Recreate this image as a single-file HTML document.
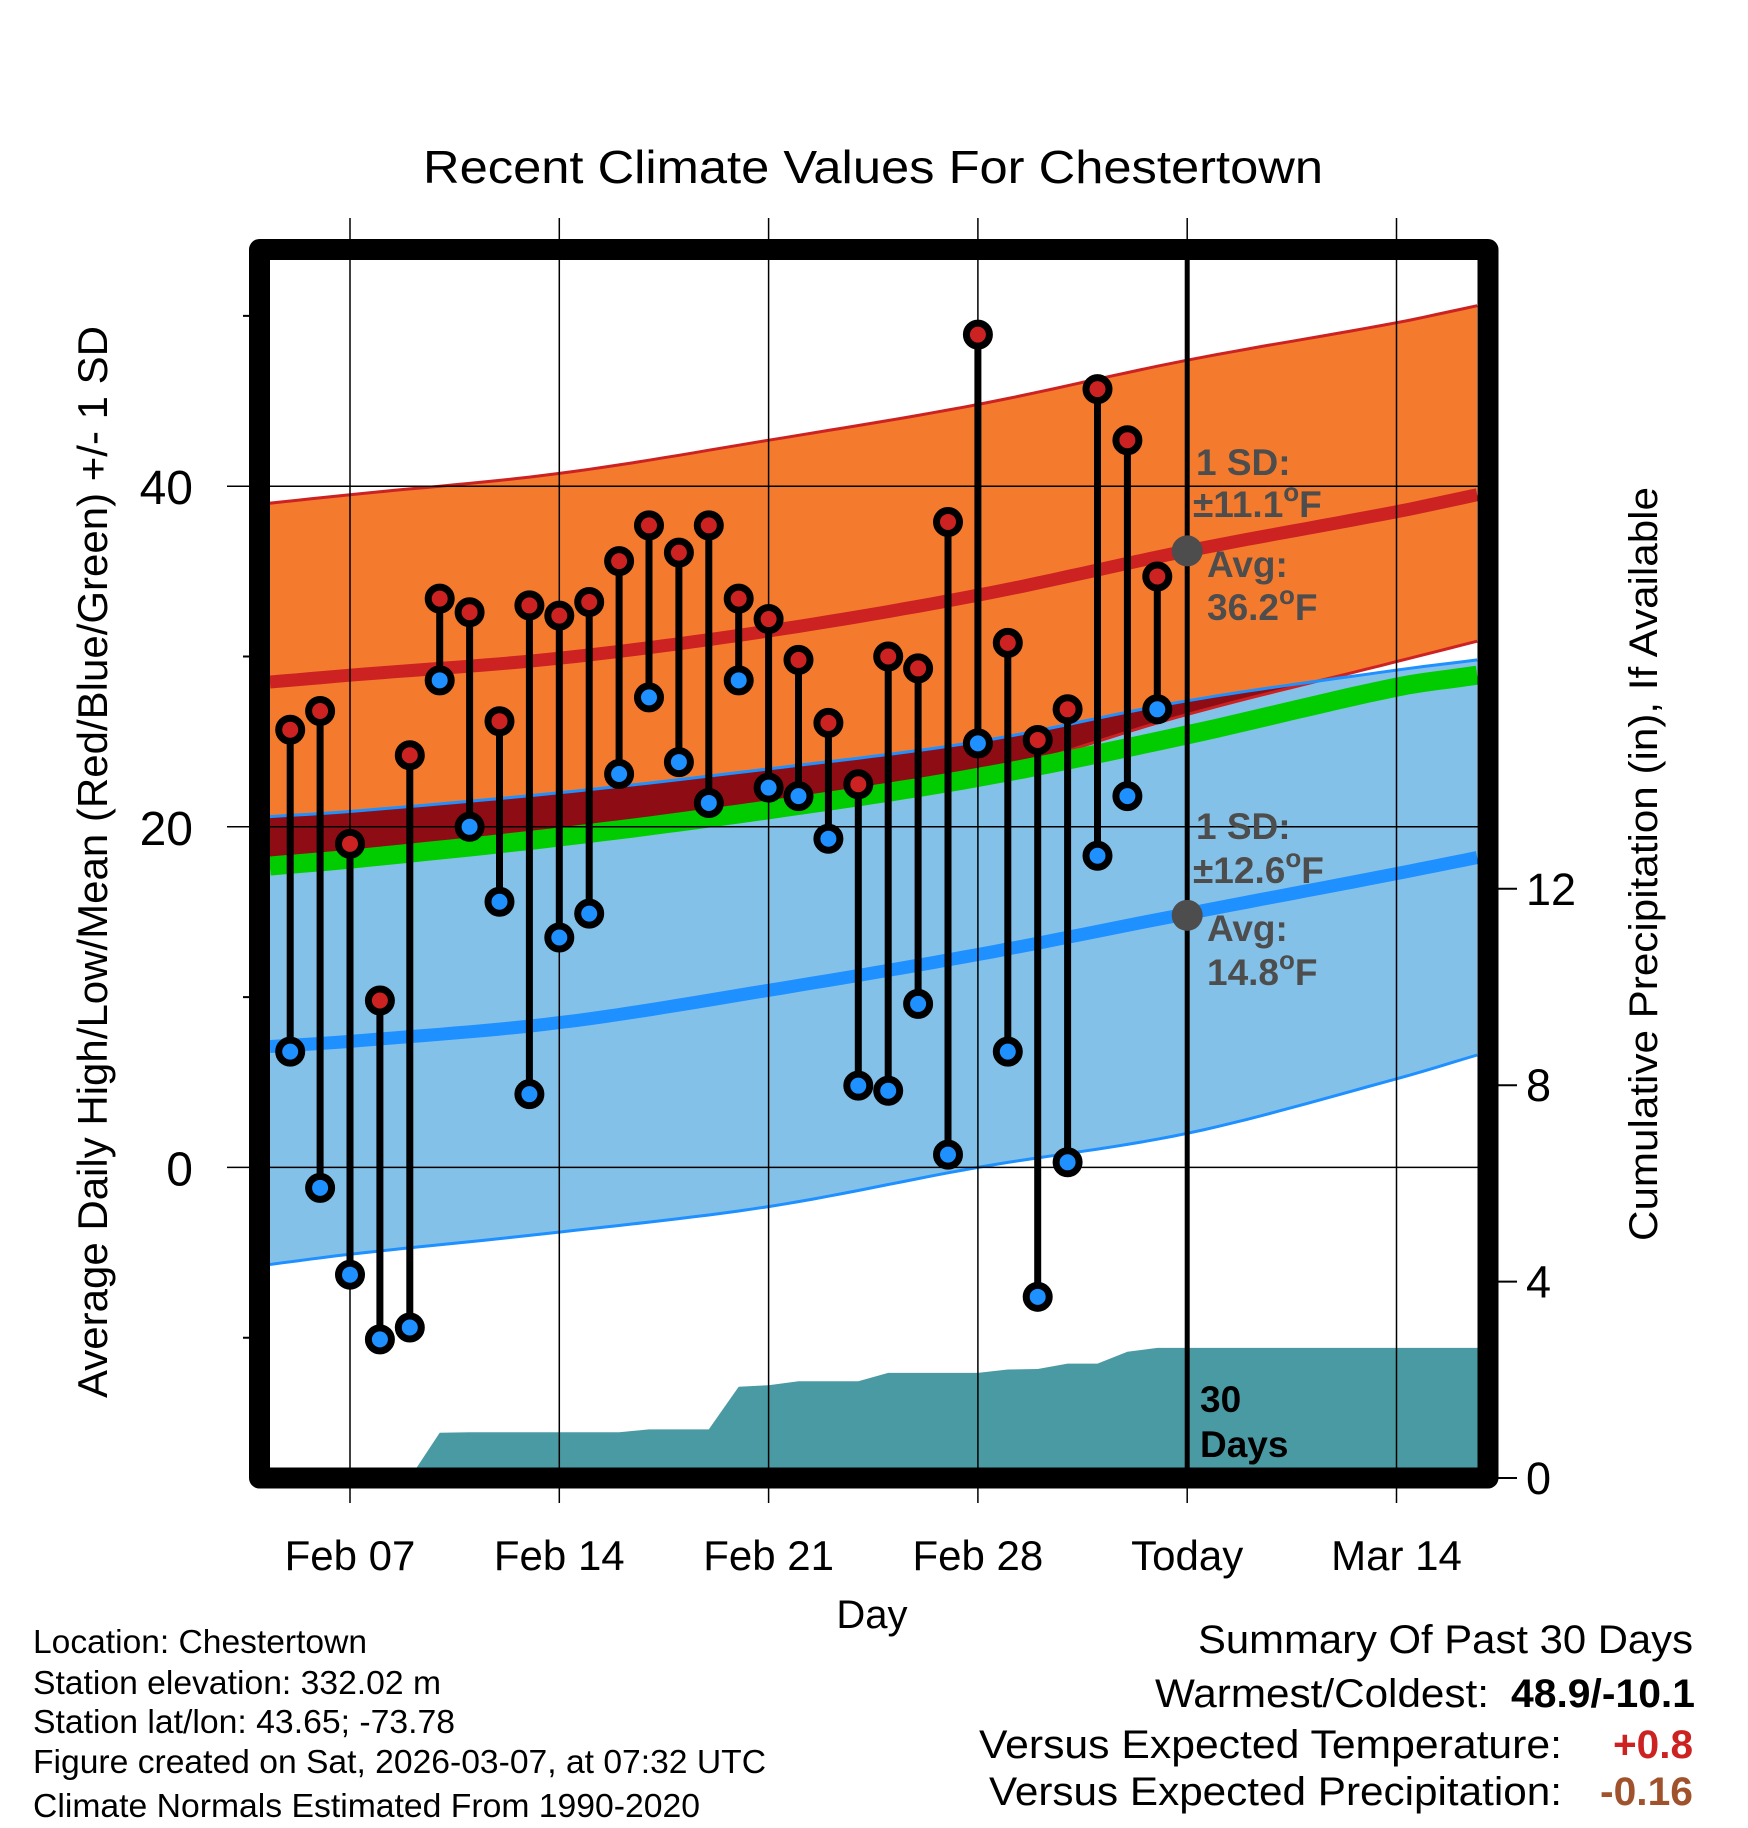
<!DOCTYPE html>
<html><head><meta charset="utf-8"><style>
html,body{margin:0;padding:0;background:#fff;}
svg{display:block;font-family:"Liberation Sans",Arial,sans-serif;}
</style></head><body>
<svg id="chart" width="1748" height="1828" viewBox="0 0 1748 1828" xmlns="http://www.w3.org/2000/svg">
<defs><clipPath id="plotclip"><rect x="270" y="260" width="1208" height="1208"/></clipPath>
<clipPath id="lowclip"><path id="lowclippath" d=""/></clipPath></defs>
<g id="layer"></g>
</svg>
<script>
// ---- data ----
const dayLabels = ["Feb 07","Feb 14","Feb 21","Feb 28","Today","Mar 14"];
const dayTicks = [0,7,14,21,28,35];
const obsDays = [-2,-1,0,1,2,3,4,5,6,7,8,9,10,11,12,13,14,15,16,17,18,19,20,21,22,23,24,25,26,27];
const highs = [25.7,26.8,19.0,9.8,24.2,33.4,32.6,26.2,33.0,32.4,33.2,35.6,37.7,36.1,37.7,33.4,32.2,29.8,26.1,22.5,30.0,29.3,37.9,48.9,30.8,25.1,26.9,45.7,42.7,34.7];
const lows = [6.8,-1.2,-6.3,-10.1,-9.4,28.6,20.0,15.6,4.3,13.5,14.9,23.1,27.6,23.8,21.4,28.6,22.3,21.8,19.3,4.8,4.5,9.6,0.75,24.9,6.8,-7.6,0.3,18.3,21.8,26.9];
const precip = [0,0,0,0,0,0.92,0.93,0.93,0.93,0.93,0.93,0.93,0.99,0.99,0.99,1.86,1.89,1.97,1.97,1.97,2.14,2.14,2.14,2.14,2.21,2.22,2.33,2.33,2.57,2.65];
const normDays = [-2.68,0,7,14,21,28,35,37.7];
const highUpper = [39.0,39.5,40.75,42.7,44.8,47.4,49.6,50.6];
const highMean = [28.5,28.9,29.9,31.5,33.6,36.2,38.5,39.5];
const highLower = [17.6,18.0,19.2,20.9,23.0,26.6,29.7,30.9];
const lowUpper = [20.6,20.9,22.0,23.4,25.0,27.4,29.2,29.8];
const lowMean = [7.1,7.4,8.5,10.4,12.5,14.9,17.25,18.2];
const lowLower = [-5.7,-5.1,-3.8,-2.3,0,2.0,5.2,6.6];
const meanMean = [17.7,18.1,19.4,21.0,22.9,25.4,28.2,28.9];
const tempTicks = [-10,0,10,20,30,40,50];
const tempLabels = ["","0","","20","","40",""];
const precipTicks = [0,4,8,12];
const todayDay = 28;
const todayHigh = 36.2, todayLow = 14.8;

// ---- axes ----
const X0 = 350, PXD = 29.9;
const x = d => X0 + PXD*d;
const y = v => 1167.4 - 17.03*v;
const yp = p => 1478 - 49.1*p;
const NS = "http://www.w3.org/2000/svg";
const layer = document.getElementById('layer');
function mk(tag, attrs, parent){const e=document.createElementNS(NS,tag);for(const k in attrs)e.setAttribute(k,attrs[k]);(parent||layer).appendChild(e);return e;}
// smooth cubic Hermite through anchors
function curve(vals){
  const n=normDays.length, m=[];
  for(let i=0;i<n;i++){
    if(i===0) m.push((vals[1]-vals[0])/(normDays[1]-normDays[0]));
    else if(i===n-1) m.push((vals[n-1]-vals[n-2])/(normDays[n-1]-normDays[n-2]));
    else m.push((vals[i+1]-vals[i-1])/(normDays[i+1]-normDays[i-1]));
  }
  const out=[];
  for(let i=0;i<n-1;i++){
    const d0=normDays[i],d1=normDays[i+1],h=d1-d0,steps=Math.max(2,Math.ceil(h*2));
    for(let s=0;s<steps;s++){
      const t=s/steps,t2=t*t,t3=t2*t;
      const v=(2*t3-3*t2+1)*vals[i]+(t3-2*t2+t)*h*m[i]+(-2*t3+3*t2)*vals[i+1]+(t3-t2)*h*m[i+1];
      out.push([x(d0+t*h),y(v)]);
    }
  }
  out.push([x(normDays[n-1]),y(vals[n-1])]);
  return out;
}
function ptsStr(a){return a.map(p=>p[0].toFixed(1)+","+p[1].toFixed(1)).join(" ");}
function band(up,lo){const a=curve(up),b=curve(lo).reverse();return "M"+ptsStr(a).split(" ").join(" L")+" L"+ptsStr(b).split(" ").join(" L")+" Z";}

const plot = mk('g',{'clip-path':'url(#plotclip)'});


const hb = mk('path',{d:band(highUpper,highLower),fill:'#f47a2e'},plot);


const lbd = band(lowUpper,lowLower);
document.getElementById('lowclippath').setAttribute('d',lbd);
const lb = mk('path',{d:lbd,fill:'#84c1e8'},plot);


const ov = mk('path',{d:band(highUpper,highLower),fill:'#8e0d14','clip-path':'url(#lowclip)'},plot);


[[highUpper,'#cc2222','high-upper-line'],[highLower,'#cc2222','high-lower-line'],[lowUpper,'#1e90ff','low-upper-line'],[lowLower,'#1e90ff','low-lower-line']].forEach(c=>{
  const l=mk('polyline',{points:ptsStr(curve(c[0])),fill:'none',stroke:c[1],'stroke-width':3},plot);
  
  
});
const gl = mk('polyline',{points:ptsStr(curve(meanMean)),fill:'none',stroke:'#00cc00','stroke-width':19},plot);


const hm = mk('polyline',{points:ptsStr(curve(highMean)),fill:'none',stroke:'#cc2222','stroke-width':13},plot);


const lm = mk('polyline',{points:ptsStr(curve(lowMean)),fill:'none',stroke:'#1e90ff','stroke-width':13},plot);


let pp = "M"+x(obsDays[0])+","+yp(0);
obsDays.forEach((d,i)=>{pp+=" L"+x(d).toFixed(1)+","+yp(precip[i]).toFixed(1);});
pp+=" L1478,"+yp(precip[precip.length-1]).toFixed(1)+" L1478,"+yp(0)+" Z";
const pa = mk('path',{d:pp,fill:'#4a9aa3'},plot);



dayTicks.forEach((d,i)=>{
  const g=mk('line',{x1:x(d),x2:x(d),y1:218,y2:1503,stroke:'#000','stroke-width':1.5});
  
  
  const t=mk('text',{x:x(d),y:1570,'font-size':42,'text-anchor':'middle',fill:'#000'});
  t.textContent=dayLabels[i];
  
  
});
tempTicks.forEach((v,i)=>{
  const major = tempLabels[i]!=="";
  if(major){
    const g=mk('line',{x1:227,x2:1478,y1:y(v),y2:y(v),stroke:'#000','stroke-width':1.5});
    
    
    const t=mk('text',{x:193,y:y(v)+18,'font-size':48,'text-anchor':'end',fill:'#000'});
    t.textContent=tempLabels[i];
    
    
  } else {
    const g=mk('line',{x1:243,x2:260,y1:y(v),y2:y(v),stroke:'#000','stroke-width':2});
    
    
  }
});
precipTicks.forEach(p=>{
  const g=mk('line',{x1:1488,x2:1517,y1:yp(p),y2:yp(p),stroke:'#000','stroke-width':2});
  
  
  const t=mk('text',{x:1526,y:yp(p)+16,'font-size':45,fill:'#000'});
  t.textContent=String(p);
  
  
});

const tl = mk('line',{x1:x(todayDay),x2:x(todayDay),y1:260,y2:1468,stroke:'#000','stroke-width':5});



obsDays.forEach((d,i)=>{
  const s=mk('line',{x1:x(d),x2:x(d),y1:y(highs[i]),y2:y(lows[i]),stroke:'#000','stroke-width':7});
  
  
});
obsDays.forEach((d,i)=>{
  const h=mk('circle',{cx:x(d),cy:y(highs[i]),r:11.5,fill:'#cc2222',stroke:'#000','stroke-width':7});
  
  
  const l=mk('circle',{cx:x(d),cy:y(lows[i]),r:11.5,fill:'#1e90ff',stroke:'#000','stroke-width':7});
  
  
});
[[todayHigh,'today-high-avg-dot'],[todayLow,'today-low-avg-dot']].forEach(a=>{
  const c=mk('circle',{cx:x(todayDay),cy:y(a[0]),r:15.5,fill:'#4d4d4d'});
  
  
});
const fr = mk('rect',{x:259.5,y:249.5,width:1228.5,height:1228.5,fill:'none',stroke:'#000','stroke-width':21,'stroke-linejoin':'round'});


</script>
<script>
(function(){
const NS="http://www.w3.org/2000/svg", layer=document.getElementById('layer');
function txt(name,x,y,size,content,opts){
  const t=document.createElementNS(NS,'text');
  t.setAttribute('x',x);t.setAttribute('y',y);t.setAttribute('font-size',size);
  t.setAttribute('fill',(opts&&opts.fill)||'#000');
  if(opts&&opts.bold)t.setAttribute('font-weight','bold');
  if(opts&&opts.anchor)t.setAttribute('text-anchor',opts.anchor);
  if(opts&&opts.len){t.setAttribute('textLength',opts.len);t.setAttribute('lengthAdjust','spacingAndGlyphs');}
  if(opts&&opts.transform)t.setAttribute('transform',opts.transform);
  t.innerHTML=content;
  
  
  layer.appendChild(t);return t;
}
const g='#4d4d4d';
const sup='<tspan dy="-16" font-size="26">o</tspan><tspan dy="16">F</tspan>';
txt('chart-title',423,183,46,'Recent Climate Values For Chestertown',{len:900});
txt('y-axis-title',0,0,42,'Average Daily High/Low/Mean (Red/Blue/Green) +/- 1 SD',{anchor:'middle',len:1072,transform:'translate(107,862) rotate(-90)'});
txt('precip-axis-title',0,0,40,'Cumulative Precipitation (in), If Available',{anchor:'middle',len:754,transform:'translate(1657,864) rotate(-90)'});
txt('x-axis-title',872,1628,40,'Day',{anchor:'middle'});
txt('high-sd-label',1196,475,37,'1 SD:',{bold:1,fill:g});
txt('high-sd-value',1193,517,37,'±11.1'+sup,{bold:1,fill:g});
txt('high-avg-label',1207,577,37,'Avg:',{bold:1,fill:g});
txt('high-avg-value',1207,620,37,'36.2'+sup,{bold:1,fill:g});
txt('low-sd-label',1196,839,37,'1 SD:',{bold:1,fill:g});
txt('low-sd-value',1193,883,37,'±12.6'+sup,{bold:1,fill:g});
txt('low-avg-label',1207,941,37,'Avg:',{bold:1,fill:g});
txt('low-avg-value',1207,985,37,'14.8'+sup,{bold:1,fill:g});
txt('precip-days-label',1200,1412,37,'30',{bold:1});
txt('precip-days-label-2',1200,1457,37,'Days',{bold:1});
const foot=['Location: Chestertown','Station elevation: 332.02 m','Station lat/lon: 43.65; -73.78','Figure created on Sat, 2026-03-07, at 07:32 UTC','Climate Normals Estimated From 1990-2020'];
const fl=[334,408,422,733,667];
const fb=[1653,1694,1733,1773,1817];
foot.forEach((s,i)=>txt('footer-line',33,fb[i],33,s,{len:fl[i]}));
txt('summary-title',1198,1653,40,'Summary Of Past 30 Days',{len:495});
txt('warmest-coldest-label',1155,1707,40,'Warmest/Coldest:',{len:334});
txt('warmest-coldest-value',1511,1707,40,'48.9/-10.1',{bold:1,len:184});
txt('temp-anomaly-label',979,1758,40,'Versus Expected Temperature:',{len:583});
txt('temp-anomaly-value',1613,1758,40,'+0.8',{bold:1,fill:'#cc2222',len:80});
txt('precip-anomaly-label',989,1805,40,'Versus Expected Precipitation:',{len:573});
txt('precip-anomaly-value',1600,1805,40,'-0.16',{bold:1,fill:'#a0522d',len:93});
})();
</script>
</body></html>
